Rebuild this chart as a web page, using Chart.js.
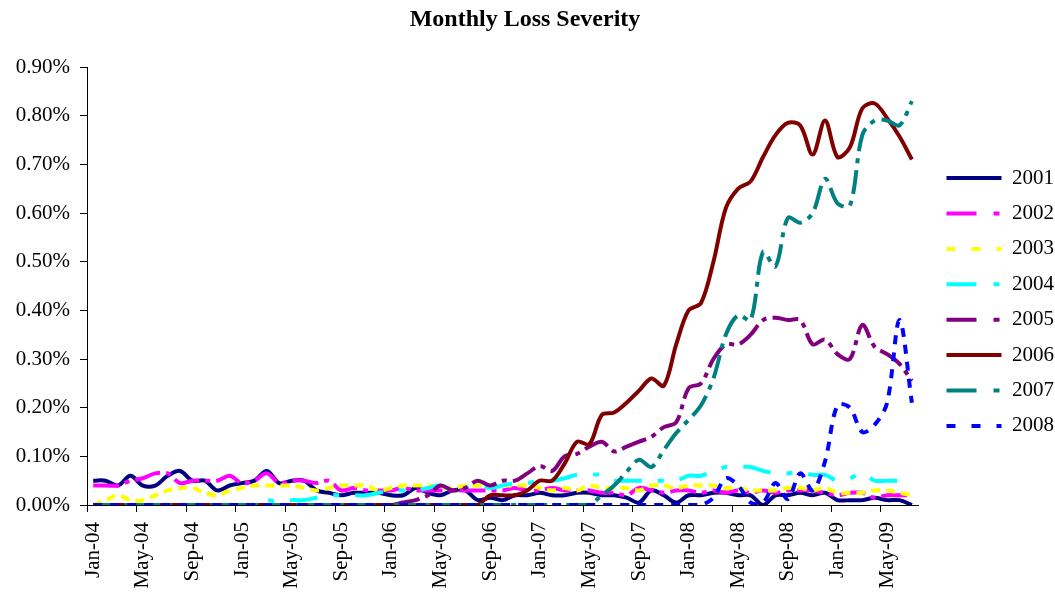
<!DOCTYPE html>
<html>
<head>
<meta charset="utf-8">
<title>Monthly Loss Severity</title>
<script src="https://cdn.jsdelivr.net/npm/chart.js@4.4.0/dist/chart.umd.min.js"></script>
<style>
  html, body { margin: 0; padding: 0; background: #ffffff; }
  #wrap { width: 1055px; height: 594px; }
</style>
</head>
<body>
<div id="wrap"><canvas id="chart" width="1055" height="594"></canvas></div>
<script>
// Month categories, Jan-04 .. Jul-09
const months = [
  'Jan-04','Feb-04','Mar-04','Apr-04','May-04','Jun-04','Jul-04','Aug-04','Sep-04','Oct-04','Nov-04','Dec-04',
  'Jan-05','Feb-05','Mar-05','Apr-05','May-05','Jun-05','Jul-05','Aug-05','Sep-05','Oct-05','Nov-05','Dec-05',
  'Jan-06','Feb-06','Mar-06','Apr-06','May-06','Jun-06','Jul-06','Aug-06','Sep-06','Oct-06','Nov-06','Dec-06',
  'Jan-07','Feb-07','Mar-07','Apr-07','May-07','Jun-07','Jul-07','Aug-07','Sep-07','Oct-07','Nov-07','Dec-07',
  'Jan-08','Feb-08','Mar-08','Apr-08','May-08','Jun-08','Jul-08','Aug-08','Sep-08','Oct-08','Nov-08','Dec-08',
  'Jan-09','Feb-09','Mar-09','Apr-09','May-09','Jun-09','Jul-09'
];

// Vintage names shown in the legend
const vintages = ['2001','2002','2003','2004','2005','2006','2007','2008'];

// Monthly loss severity per vintage, in percent
const s2001 = [
  0.05, 0.05, 0.04, 0.06, 0.04, 0.04, 0.06, 0.07, 0.05, 0.05, 0.03, 0.04,
  0.045, 0.05, 0.07, 0.045, 0.05, 0.05, 0.03, 0.025, 0.02, 0.025, 0.025, 0.025,
  0.02, 0.02, 0.035, 0.025, 0.02, 0.03, 0.03, 0.01, 0.015, 0.01, 0.02, 0.02,
  0.025, 0.02, 0.02, 0.025, 0.025, 0.02, 0.02, 0.015, 0.005, 0.03, 0.02, 0.005,
  0.02, 0.02, 0.025, 0.025, 0.02, 0.02, 0.0, 0.02, 0.02, 0.025, 0.02, 0.025,
  0.01, 0.01, 0.01, 0.015, 0.01, 0.01, 0.0
];
const s2002 = [
  0.04, 0.04, 0.04, 0.05, 0.055, 0.065, 0.065, 0.045, 0.05, 0.05, 0.05, 0.06,
  0.045, 0.05, 0.065, 0.045, 0.05, 0.05, 0.045, 0.05, 0.03, 0.035, 0.03, 0.03,
  0.03, 0.035, 0.03, 0.03, 0.03, 0.03, 0.03, 0.03, 0.03, 0.03, 0.035, 0.03,
  0.03, 0.035, 0.03, 0.03, 0.03, 0.025, 0.025, 0.02, 0.035, 0.03, 0.025, 0.03,
  0.03, 0.025, 0.03, 0.025, 0.03, 0.025, 0.03, 0.025, 0.03, 0.03, 0.03, 0.025,
  0.02, 0.025, 0.025, 0.015, 0.02, 0.02, 0.02
];
const s2003 = [
  0.0, 0.01, 0.02, 0.01, 0.01, 0.02, 0.03, 0.035, 0.035, 0.025, 0.02, 0.03,
  0.035, 0.04, 0.04, 0.04, 0.04, 0.035, 0.03, 0.035, 0.04, 0.04, 0.04, 0.03,
  0.035, 0.04, 0.04, 0.04, 0.035, 0.035, 0.04, 0.04, 0.04, 0.04, 0.04, 0.04,
  0.035, 0.03, 0.035, 0.03, 0.04, 0.035, 0.035, 0.035, 0.03, 0.04, 0.04, 0.035,
  0.04, 0.04, 0.04, 0.035, 0.035, 0.03, 0.03, 0.03, 0.035, 0.035, 0.03, 0.035,
  0.025, 0.025, 0.025, 0.03, 0.03, 0.025, 0.02
];
const s2004 = [
  0, 0, 0, 0, 0, 0, 0, 0, 0, 0, 0, 0,
  0.0, 0.0, 0.01, 0.005, 0.01, 0.01, 0.015, 0.02, 0.02, 0.02, 0.02, 0.025,
  0.03, 0.03, 0.03, 0.035, 0.04, 0.03, 0.035, 0.04, 0.035, 0.04, 0.045, 0.045,
  0.05, 0.05, 0.055, 0.062, 0.062, 0.062, 0.05, 0.05, 0.05, 0.05, 0.05, 0.05,
  0.06, 0.06, 0.07, 0.078, 0.078, 0.078, 0.07, 0.065, 0.065, 0.068, 0.062, 0.062,
  0.05, 0.055, 0.065, 0.05, 0.05, 0.05, 0.05
];
const s2005 = [
  0, 0, 0, 0, 0, 0, 0, 0, 0, 0, 0, 0,
  0, 0, 0, 0, 0, 0, 0, 0, 0, 0, 0, 0,
  0.0, 0.005, 0.01, 0.02, 0.04, 0.03, 0.035, 0.05, 0.04, 0.05, 0.05, 0.065,
  0.08, 0.07, 0.10, 0.105, 0.12, 0.13, 0.11, 0.12, 0.13, 0.14, 0.16, 0.17,
  0.24, 0.25, 0.30, 0.33, 0.33, 0.35, 0.38, 0.385, 0.38, 0.38, 0.33, 0.34,
  0.31, 0.30, 0.37, 0.325, 0.31, 0.29, 0.255
];
const s2006 = [
  0, 0, 0, 0, 0, 0, 0, 0, 0, 0, 0, 0,
  0, 0, 0, 0, 0, 0, 0, 0, 0, 0, 0, 0,
  0, 0, 0, 0, 0, 0, 0, 0, 0.02, 0.02, 0.02, 0.03,
  0.05, 0.05, 0.085, 0.13, 0.125, 0.185, 0.19, 0.21, 0.235, 0.26, 0.245, 0.33,
  0.40, 0.415, 0.50, 0.61, 0.65, 0.665, 0.715, 0.76, 0.785, 0.78, 0.72, 0.79,
  0.715, 0.735, 0.815, 0.825, 0.795, 0.757, 0.71
];
const s2007 = [
  0, 0, 0, 0, 0, 0, 0, 0, 0, 0, 0, 0,
  0, 0, 0, 0, 0, 0, 0, 0, 0, 0, 0, 0,
  0, 0, 0, 0, 0, 0, 0, 0, 0, 0, 0, 0,
  0, 0, 0, 0, 0, 0.02, 0.04, 0.068, 0.093, 0.078, 0.113, 0.148,
  0.175, 0.205, 0.26, 0.35, 0.39, 0.38, 0.52, 0.49, 0.59, 0.58, 0.60, 0.67,
  0.62, 0.615, 0.76, 0.79, 0.79, 0.78, 0.83
];
const s2008 = [
  0, 0, 0, 0, 0, 0, 0, 0, 0, 0, 0, 0,
  0, 0, 0, 0, 0, 0, 0, 0, 0, 0, 0, 0,
  0, 0, 0, 0, 0, 0, 0, 0, 0, 0, 0, 0,
  0, 0, 0, 0, 0, 0, 0, 0, 0, 0, 0, 0,
  0, 0, 0.015, 0.055, 0.04, 0.005, 0.005, 0.045, 0.012, 0.065, 0.03, 0.09,
  0.205, 0.20, 0.15, 0.165, 0.21, 0.38, 0.21
];

const seriesValues = [s2001, s2002, s2003, s2004, s2005, s2006, s2007, s2008];

// Line styling per vintage
const lineColors = ['#000080', '#FF00FF', '#FFFF00', '#00FFFF', '#800080', '#800000', '#008080', '#0000FF'];
const lineDashes = [[], [26, 6, 5, 6], [9, 6], [28, 16, 6, 16], [26, 6, 5, 6], [], [24, 7, 5, 7], [9, 8]];
// Dash patterns for the short legend samples
const legendDashes = [[], [30, 17, 6, 17], [9, 16], [30, 17, 6, 17], [30, 17, 6, 17], [], [30, 17, 6, 17], [9, 16]];

const FONT = "'Liberation Serif', 'Times New Roman', serif";
Chart.defaults.font.family = FONT;
Chart.defaults.color = '#000000';

const datasets = vintages.map((name, i) => ({
  label: name,
  data: seriesValues[i],
  borderColor: lineColors[i],
  backgroundColor: lineColors[i],
  borderWidth: 4,
  borderDash: lineDashes[i],
  borderJoinStyle: 'round',
  borderCapStyle: 'butt',
  pointRadius: 0,
  pointHoverRadius: 0,
  tension: 0.33,
  fill: false,
  // later vintages are painted over earlier ones
  order: vintages.length - 1 - i
}));

// Moves the legend block a little right and down of its default slot
const legendOffset = {
  id: 'legendOffset',
  afterLayout(chart) {
    const lg = chart.legend;
    if (!lg) return;
    lg.left += 14; lg.right += 14;
    lg.top += 5; lg.bottom += 5;
  }
};

new Chart(document.getElementById('chart'), {
  type: 'line',
  data: { labels: months, datasets },
  plugins: [legendOffset],
  options: {
    responsive: false,
    animation: false,
    devicePixelRatio: 1,
    layout: { padding: { left: 0, right: 5, top: 0, bottom: 0 } },
    plugins: {
      title: {
        display: true,
        text: 'Monthly Loss Severity',
        color: '#000000',
        font: { family: FONT, size: 24, weight: 'bold' },
        padding: { top: 5, bottom: 33.2 }
      },
      legend: {
        display: true,
        position: 'right',
        align: 'center',
        labels: {
          usePointStyle: true,
          pointStyle: 'line',
          pointStyleWidth: 55,
          color: '#000000',
          font: { family: FONT, size: 21 },
          padding: 14.4,
          sort: (a, b) => a.datasetIndex - b.datasetIndex,
          generateLabels(chart) {
            const items = Chart.defaults.plugins.legend.labels.generateLabels(chart);
            items.forEach((it) => { it.lineDash = legendDashes[it.datasetIndex]; });
            return items;
          }
        }
      },
      tooltip: { enabled: false }
    },
    scales: {
      x: {
        type: 'category',
        offset: true,
        afterFit(scale) { scale.height = 89; },
        border: { display: true, color: '#000000', width: 1 },
        grid: {
          display: true,
          drawOnChartArea: false,
          drawTicks: true,
          offset: true,
          tickLength: 7,
          tickWidth: 1,
          tickColor: (c) => (c.index % 4 === 0 ? '#000000' : 'rgba(0,0,0,0)')
        },
        ticks: {
          autoSkip: false,
          minRotation: 90,
          maxRotation: 90,
          padding: 10,
          color: '#000000',
          font: { family: FONT, size: 21 },
          callback: (v, i) => (i % 4 === 0 ? months[i] : '')
        }
      },
      y: {
        min: 0,
        max: 0.9,
        afterFit(scale) { scale.width = 87; },
        border: { display: true, color: '#000000', width: 1 },
        grid: {
          display: true,
          drawOnChartArea: false,
          drawTicks: true,
          tickLength: 7,
          tickWidth: 1,
          tickColor: '#000000'
        },
        ticks: {
          stepSize: 0.1,
          padding: 10,
          color: '#000000',
          font: { family: FONT, size: 21 },
          callback: (v) => v.toFixed(2) + '%'
        }
      }
    }
  }
});
</script>
</body>
</html>
